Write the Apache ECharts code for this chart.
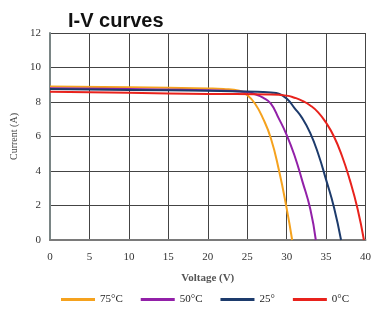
<!DOCTYPE html>
<html>
<head>
<meta charset="utf-8">
<script src="https://cdn.jsdelivr.net/npm/echarts@6/dist/echarts.min.js"></script>
<style>
  html, body { margin: 0; padding: 0; background: #fff; }
  #chart { width: 374px; height: 316px; }
</style>
</head>
<body>
<div id="chart"></div>
<script>
// voltage (V) / current (A)
const names = ['75°C', '50°C', '25°', '0°C'];
const colors = ['#f5a21e', '#9220a8', '#1d3b6c', '#e8221c'];

const v75 = [0, 10, 20, 22, 24, 25, 26, 27, 28, 29, 30, 30.7];
const i75 = [8.9, 8.85, 8.78, 8.75, 8.65, 8.4, 7.9, 7.05, 5.9, 4.1, 1.85, 0];

const v50 = [0, 10, 20, 25, 26, 27, 28, 29, 30, 31, 32, 33, 33.7];
const i50 = [8.8, 8.75, 8.68, 8.58, 8.45, 8.25, 7.9, 7.05, 6.1, 4.9, 3.4, 1.8, 0];

const v25 = [0, 10, 20, 27, 28, 29, 30, 31, 32, 33, 34, 35, 36, 36.9];
const i25 = [8.75, 8.7, 8.65, 8.58, 8.55, 8.48, 8.2, 7.65, 7.05, 6.2, 5.0, 3.5, 1.9, 0];

const v0 = [0, 10, 20, 28, 30, 31, 32, 33, 34, 35, 36, 37, 38, 39, 39.8];
const i0 = [8.6, 8.53, 8.47, 8.44, 8.37, 8.25, 8.07, 7.8, 7.4, 6.8, 6.0, 4.9, 3.5, 1.8, 0];

const xTicks = [0, 5, 10, 15, 20, 25, 30, 35, 40];
const yTicks = [0, 2, 4, 6, 8, 10, 12];

const pairs = (xs, ys) => xs.map((x, k) => [x, ys[k]]);
const curves = [pairs(v75, i75), pairs(v50, i50), pairs(v25, i25), pairs(v0, i0)];

const chart = echarts.init(document.getElementById('chart'));

const serif = '"Liberation Serif", "DejaVu Serif", serif';

chart.setOption({
    backgroundColor: '#fff',
    animation: false,
    title: {
        text: 'I-V curves',
        left: 63,
        top: 6,
        textStyle: { fontFamily: '"Liberation Sans", Arial, sans-serif', fontWeight: 'bold', fontSize: 20, color: '#111' }
    },
    legend: {
        bottom: 6,
        left: 56,
        itemWidth: 34,
        itemHeight: 3,
        itemGap: 18,
        icon: 'rect',
        textStyle: { fontFamily: serif, fontSize: 11, color: '#222' },
        data: names
    },
    grid: { left: 50, right: 7, top: 33, bottom: 76 },
    xAxis: {
        type: 'value',
        min: xTicks[0],
        max: xTicks[xTicks.length - 1],
        interval: 5,
        name: 'Voltage (V)',
        nameLocation: 'middle',
        nameGap: 33,
        nameTextStyle: { fontFamily: serif, fontSize: 11, fontWeight: 'bold', color: '#555' },
        axisLine: { lineStyle: { color: '#7a7a7a', width: 2 } },
        axisTick: { show: false },
        axisLabel: { fontFamily: serif, fontSize: 11, color: '#333', margin: 12 },
        splitLine: { lineStyle: { color: '#444', width: 1 } }
    },
    yAxis: {
        type: 'value',
        min: yTicks[0],
        max: yTicks[yTicks.length - 1],
        interval: 2,
        name: 'Current (A)',
        nameLocation: 'middle',
        nameGap: 27,
        nameTextStyle: { fontFamily: serif, fontSize: 10, color: '#444' },
        axisLine: { show: true, lineStyle: { color: '#7a8585', width: 2 } },
        axisTick: { show: false },
        axisLabel: { fontFamily: serif, fontSize: 11, color: '#333', margin: 9 },
        splitLine: { lineStyle: { color: '#444', width: 1 } }
    },
    series: curves.map((d, k) => ({
        name: names[k],
        type: 'line',
        data: d,
        smooth: 0.5,
        showSymbol: false,
        color: colors[k],
        lineStyle: { width: 2, color: colors[k] }
    }))
});
</script>
</body>
</html>
